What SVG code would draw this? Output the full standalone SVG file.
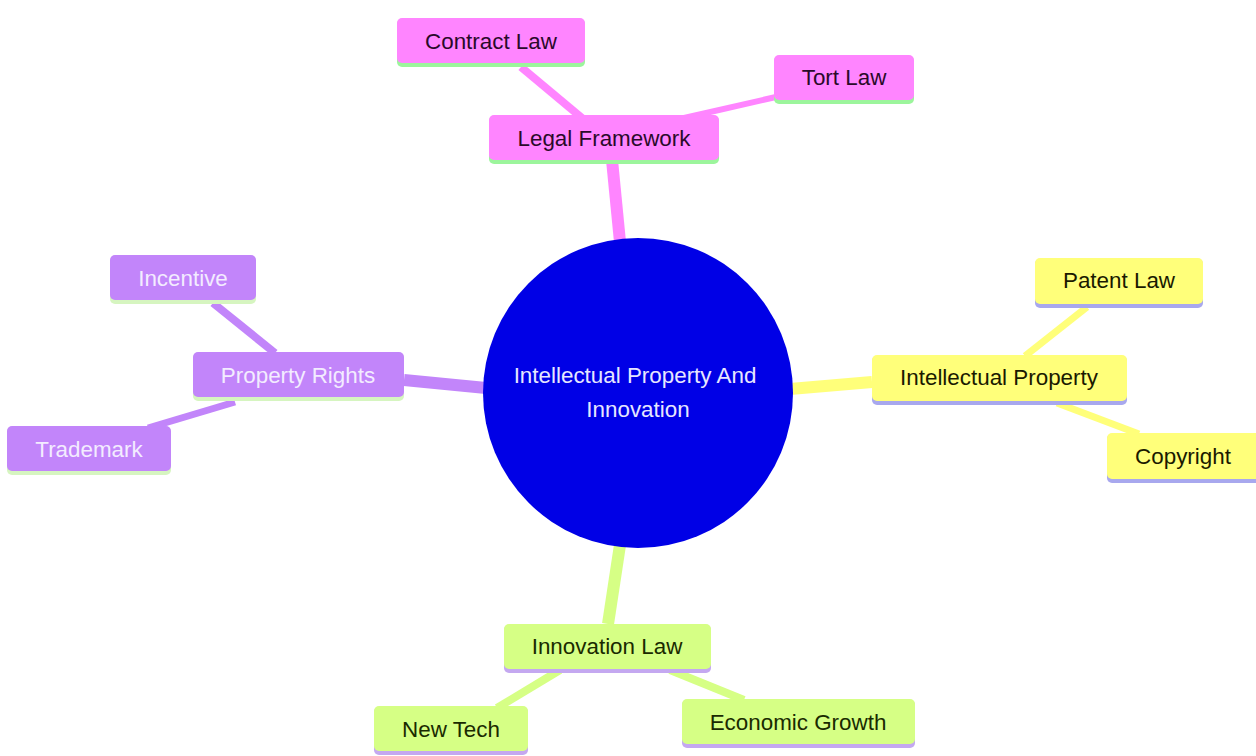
<svg xmlns="http://www.w3.org/2000/svg" width="1256" height="756" viewBox="0 0 1256 756">
<style>
text{font-family:"Liberation Sans",Arial,sans-serif;font-size:22.4px;text-anchor:middle;dominant-baseline:central}
.pk rect.b{fill:#ff85ff}.pk rect.u{fill:#9cf59c}.pk text{fill:#2a0a2a}
.pu rect.b{fill:#c285fa}.pu rect.u{fill:#d6f5c0}.pu text{fill:#f3ecff}
.ye rect.b{fill:#ffff7a}.ye rect.u{fill:#a8a8ee}.ye text{fill:#1a1a00}
.gr rect.b{fill:#d6ff85}.gr rect.u{fill:#c4a8f0}.gr text{fill:#1a2a00}
.e{stroke-linecap:butt;fill:none}
</style>
<g id="connectors">
<line class="e" x1="612" y1="160" x2="620" y2="242" stroke="#ff85ff" stroke-width="12"/>
<line class="e" x1="404" y1="380" x2="486" y2="388" stroke="#c285fa" stroke-width="12"/>
<line class="e" x1="790" y1="389" x2="872" y2="382" stroke="#ffff7a" stroke-width="12"/>
<line class="e" x1="620" y1="545" x2="608" y2="624" stroke="#d6ff85" stroke-width="12"/>
<line class="e" x1="521" y1="67" x2="582" y2="118" stroke="#ff85ff" stroke-width="8"/>
<line class="e" x1="684" y1="118" x2="776" y2="97" stroke="#ff85ff" stroke-width="6"/>
<line class="e" x1="213" y1="303" x2="275" y2="353" stroke="#c285fa" stroke-width="8"/>
<line class="e" x1="235" y1="402" x2="148" y2="428" stroke="#c285fa" stroke-width="7"/>
<line class="e" x1="1087" y1="307" x2="1025" y2="356" stroke="#ffff7a" stroke-width="7"/>
<line class="e" x1="1057" y1="403" x2="1139" y2="434" stroke="#ffff7a" stroke-width="7"/>
<line class="e" x1="560" y1="670" x2="497" y2="708" stroke="#d6ff85" stroke-width="8"/>
<line class="e" x1="670" y1="670" x2="744" y2="700" stroke="#d6ff85" stroke-width="8"/>
</g>
<g id="root">
<circle cx="638" cy="393" r="155" fill="#0000e6"/>
<text x="635" y="375" fill="#e6e6ff" font-size="21.5">Intellectual Property And</text>
<text x="638" y="409" fill="#e6e6ff" font-size="21.5">Innovation</text>
</g>
<g id="legal-framework" class="pk">
<rect class="u" x="489" y="116" width="230" height="48" rx="5"/>
<rect class="b" x="489" y="115" width="230" height="45" rx="5"/>
<text x="604" y="138">Legal Framework</text>
</g>
<g id="contract-law" class="pk">
<rect class="u" x="397" y="19" width="188" height="48" rx="5"/>
<rect class="b" x="397" y="18" width="188" height="45" rx="5"/>
<text x="491" y="41">Contract Law</text>
</g>
<g id="tort-law" class="pk">
<rect class="u" x="774" y="56" width="140" height="48" rx="5"/>
<rect class="b" x="774" y="55" width="140" height="45" rx="5"/>
<text x="844" y="77">Tort Law</text>
</g>
<g id="property-rights" class="pu">
<rect class="u" x="193" y="353" width="211" height="48" rx="5"/>
<rect class="b" x="193" y="352" width="211" height="45" rx="5"/>
<text x="298" y="375">Property Rights</text>
</g>
<g id="incentive" class="pu">
<rect class="u" x="110" y="256" width="146" height="48" rx="5"/>
<rect class="b" x="110" y="255" width="146" height="45" rx="5"/>
<text x="183" y="278">Incentive</text>
</g>
<g id="trademark" class="pu">
<rect class="u" x="7" y="427" width="164" height="48" rx="5"/>
<rect class="b" x="7" y="426" width="164" height="45" rx="5"/>
<text x="89" y="449">Trademark</text>
</g>
<g id="intellectual-property" class="ye">
<rect class="u" x="872" y="356" width="255" height="49" rx="5"/>
<rect class="b" x="872" y="355" width="255" height="46" rx="5"/>
<text x="999" y="377">Intellectual Property</text>
</g>
<g id="patent-law" class="ye">
<rect class="u" x="1035" y="259" width="168" height="49" rx="5"/>
<rect class="b" x="1035" y="258" width="168" height="46" rx="5"/>
<text x="1119" y="280">Patent Law</text>
</g>
<g id="copyright" class="ye">
<rect class="u" x="1107" y="434" width="155" height="49" rx="5"/>
<rect class="b" x="1107" y="433" width="155" height="46" rx="5"/>
<text x="1183" y="456">Copyright</text>
</g>
<g id="innovation-law" class="gr">
<rect class="u" x="504" y="625" width="207" height="48" rx="5"/>
<rect class="b" x="504" y="624" width="207" height="45" rx="5"/>
<text x="607" y="646">Innovation Law</text>
</g>
<g id="new-tech" class="gr">
<rect class="u" x="374" y="707" width="154" height="48" rx="5"/>
<rect class="b" x="374" y="706" width="154" height="45" rx="5"/>
<text x="451" y="729">New Tech</text>
</g>
<g id="economic-growth" class="gr">
<rect class="u" x="682" y="700" width="233" height="48" rx="5"/>
<rect class="b" x="682" y="699" width="233" height="45" rx="5"/>
<text x="798" y="722">Economic Growth</text>
</g>
</svg>
